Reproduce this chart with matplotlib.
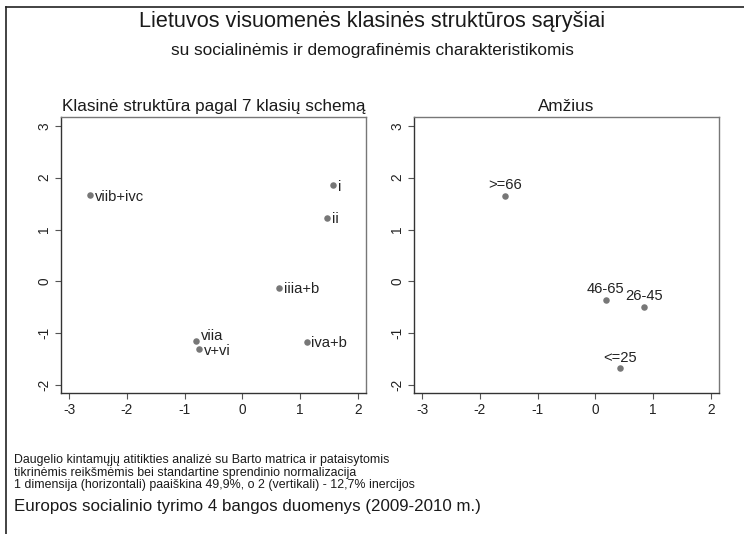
import matplotlib
matplotlib.use("Agg")
import matplotlib.pyplot as plt
from matplotlib.lines import Line2D

plt.rcParams['font.family'] = ['Liberation Sans', 'DejaVu Sans']

# Data
class_labels = ["viib+ivc", "i", "ii", "iiia+b", "viia", "v+vi", "iva+b"]
class_x = [-2.63, 1.57, 1.46, 0.63, -0.81, -0.75, 1.11]
class_y = [1.66, 1.85, 1.23, -0.12, -1.14, -1.30, -1.16]

age_labels = [">=66", "46-65", "26-45", "<=25"]
age_x = [-1.57, 0.18, 0.84, 0.42]
age_y = [1.65, -0.35, -0.49, -1.67]

xticks = [-3, -2, -1, 0, 1, 2]
yticks = [-2, -1, 0, 1, 2, 3]

title = "Lietuvos visuomenės klasinės struktūros sąryšiai"
subtitle = "su socialinėmis ir demografinėmis charakteristikomis"
panel_titles = ["Klasinė struktūra pagal 7 klasių schemą", "Amžius"]
notes = ["Daugelio kintamųjų atitikties analizė su Barto matrica ir pataisytomis",
         "tikrinėmis reikšmėmis bei standartine sprendinio normalizacija",
         "1 dimensija (horizontali) paaiškina 49,9%, o 2 (vertikali) - 12,7% inercijos"]
caption = "Europos socialinio tyrimo 4 bangos duomenys (2009-2010 m.)"

# label vertical offsets (points) for the class panel
class_label_dy = {"viia": 3.0, "v+vi": -1.5}

W, H = 744, 534
fig = plt.figure(figsize=(W / 100, H / 100), dpi=100)
fig.patch.set_facecolor("white")

def fx(px):
    return px / W

def fy(py):
    return 1 - py / H

# outer border (left and top only visible)
fig.add_artist(Line2D([fx(6), fx(6)], [fy(7), -0.1], color="#222222", lw=1.2))
fig.add_artist(Line2D([fx(6), 1.1], [fy(7), fy(7)], color="#222222", lw=1.2))

fig.text(0.5, fy(22), title, ha="center", va="center", fontsize=15.6, color="#1a1a1a")
fig.text(0.5, fy(50), subtitle, ha="center", va="center", fontsize=12.4, color="#1a1a1a")

ax_w = 305 / W
ax_h = 276 / H
ax_b = fy(393)
axes = [fig.add_axes([fx(61), ax_b, ax_w, ax_h]),
        fig.add_axes([fx(414), ax_b, ax_w, ax_h])]

for ax, t in zip(axes, panel_titles):
    ax.set_xlim(-3.14, 2.14)
    ax.set_ylim(-2.15, 3.17)
    ax.set_xticks(xticks)
    ax.set_yticks(yticks)
    ax.set_xticklabels([str(v) for v in xticks], fontsize=9.8, color="#222222")
    ax.set_yticklabels([str(v) for v in yticks], fontsize=9.8, color="#222222",
                       rotation=90, va="center")
    ax.tick_params(direction="out", length=4, width=0.8, color="#555555", pad=3)
    for s in ["left", "bottom"]:
        ax.spines[s].set_color("#333333")
        ax.spines[s].set_linewidth(1.0)
    for s in ["top", "right"]:
        ax.spines[s].set_color("#777777")
        ax.spines[s].set_linewidth(1.0)
    ax.set_title(t, fontsize=12.3, color="#1a1a1a", pad=4)

ax1, ax2 = axes
ax1.scatter(class_x, class_y, s=22, color="#777777", zorder=3, linewidths=0)
for lab, x, y in zip(class_labels, class_x, class_y):
    dy = class_label_dy.get(lab, -1.0)
    ax1.annotate(lab, (x, y), xytext=(3.5, dy), textcoords="offset points",
                 ha="left", va="center", fontsize=10.6, color="#222222")

ax2.scatter(age_x, age_y, s=22, color="#777777", zorder=3, linewidths=0)
for lab, x, y in zip(age_labels, age_x, age_y):
    ax2.annotate(lab, (x, y), xytext=(0, 2.5), textcoords="offset points",
                 ha="center", va="bottom", fontsize=10.6, color="#222222")

fig.text(fx(14), fy(454.5), "\n".join(notes), ha="left", va="top",
         fontsize=8.9, color="#1a1a1a", linespacing=1.02)
fig.text(fx(14), fy(507), caption, ha="left", va="center", fontsize=12.2, color="#1a1a1a")

fig.savefig("out.png", dpi=100)
